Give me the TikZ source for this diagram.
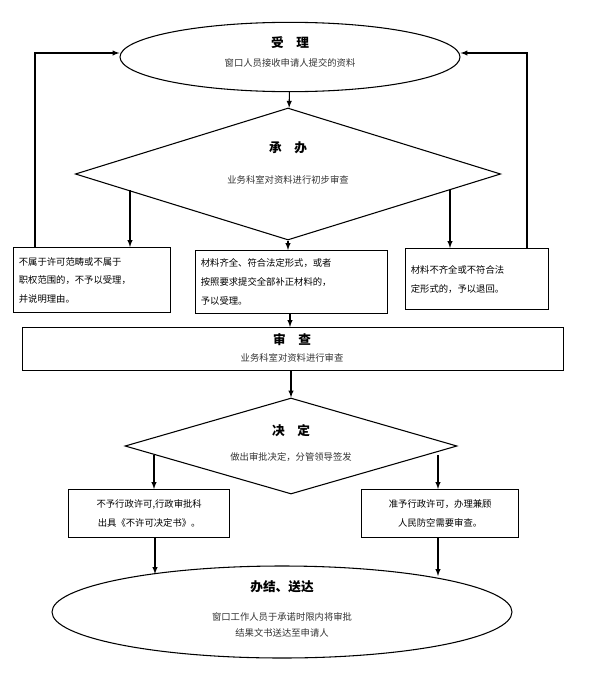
\documentclass[tikz,border=0pt]{standalone}
\usepackage{fontspec}
\setmainfont{Noto Sans CJK SC}
\usetikzlibrary{shapes.geometric}
\tikzset{
  box/.style={draw, thick, inner sep=4pt, font=\fontsize{7}{14}\selectfont, align=left},
  hd/.style={font=\fontsize{9.5}{11}\selectfont\bfseries},
  sub/.style={font=\fontsize{7}{9}\selectfont, text=black!80},
  arr/.style={-latex, thick}
}
\begin{document}
\begin{tikzpicture}[x=0.75pt, y=-0.75pt]
      \useasboundingbox (0,0) rectangle (600,689);
      % accept
      \node (shou) [draw, thick, ellipse, minimum width=255pt, minimum height=52pt] at (290,57) {};
      \node [hd] at (290,43) {受\quad 理};
      \node [sub] at (290,63) {窗口人员接收申请人提交的资料};
      \node (cheng) [draw, thick, diamond, minimum width=319pt, minimum height=99pt, inner sep=0pt] at (288,174) {};
      \node [hd] at (288,148) {承\quad 办};
      \node [sub] at (288,180) {业务科室对资料进行初步审查};
      % three outcomes
      \node (bl) [box, text width=110pt, minimum height=49pt, anchor=north west] at (13,247) {不属于许可范畴或不属于\\职权范围的，不予以受理，\\并说明理由。};
      \node (bm) [box, text width=136pt, minimum height=47pt, anchor=north west] at (195,250) {材料齐全、符合法定形式，或者\\按照要求提交全部补正材料的，\\予以受理。};
      \node (br) [box, text width=99pt, minimum height=46pt, anchor=north west] at (405,248) {材料不齐全或不符合法\\定形式的，予以退回。};
      \node (shen) [draw, thick, minimum width=406pt, minimum height=32pt, anchor=north west, inner sep=0pt] at (22,327) {};
      \node [hd] at (292,340) {审\quad 查};
      \node [sub] at (292,358) {业务科室对资料进行审查};
      % decide
      \node (jue) [draw, thick, diamond, minimum width=249pt, minimum height=72pt, inner sep=0pt] at (291,446) {};
      \node [hd] at (291,431) {决\quad 定};
      \node [sub] at (291,457) {做出审批决定，分管领导签发};
      \node (dl) [box, text width=113pt, minimum height=36pt, anchor=north west, align=center] at (68,489) {不予行政许可,行政审批科\\出具《不许可决定书》。};
      \node (dr) [box, text width=110pt, minimum height=36pt, anchor=north west, align=center] at (361,489) {准予行政许可，办理兼顾\\人民防空需要审查。};
      \node (ban) [draw, thick, ellipse, minimum width=345pt, minimum height=69pt] at (282,612) {};
      \node [hd] at (282,587) {办结、送达};
      \node [sub, align=center, font=\fontsize{7}{12}\selectfont] at (282,625) {窗口工作人员于承诺时限内将审批\\结果文书送达至申请人};
      \coordinate (c1) at (130,190);
      \coordinate (c2) at (450,190);
      \coordinate (d1) at (154,455);
      \coordinate (d2) at (438,455);
      \coordinate (e1) at (155,574);
      \coordinate (e2) at (438,576);
      % connectors
      \draw [arr] (shou) -- (cheng);
      \draw [arr] (c1) -- (c1 |- bl.north);
      \draw [arr] (cheng.south) -- (bm.north -| cheng.south);
      \draw [arr] (c2) -- (c2 |- br.north);
      \draw [arr] (bm.south -| 290,0) -- (shen.north -| 290,0);
      \draw [arr] (shen.south -| jue.north) -- (jue.north);
      \draw [arr] (d1) -- (d1 |- dl.north);
      \draw [arr] (d2) -- (d2 |- dr.north);
      \draw [arr] (dl.south -| e1) -- (e1);
      \draw [arr] (dr.south -| e2) -- (e2);
      \draw [arr] (bl.north -| 35,0) -- (35,53) -- (shou.west |- 0,53);
      \draw [arr] (br.north -| 527,0) -- (527,53) -- (shou.east |- 0,53);
\end{tikzpicture}
\end{document}
